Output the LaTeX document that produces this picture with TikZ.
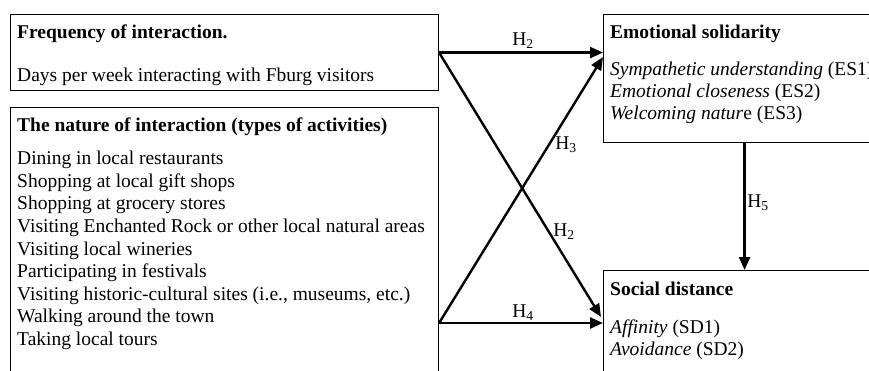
\documentclass[tikz,border=0pt]{standalone}
\usepackage{fontspec}
\setmainfont{Liberation Serif}
\usetikzlibrary{arrows.meta,calc}
\begin{document}
\begin{tikzpicture}[x=1pt,y=-1pt,
  box/.style={draw,line width=1.1pt,inner sep=0,anchor=north west},
  txt/.style={anchor=base west,inner sep=0,font=\fontsize{19.5}{22.5}\selectfont},
  conn/.style={line width=2.4pt,-{Triangle[length=13pt,width=11pt]}},
  hlab/.style={inner sep=0,font=\fontsize{19.5}{22}\selectfont}]
\clip (0,0) rectangle (869,371);
\fill[white] (0,0) rectangle (869,371);
% boxes
\node[box,minimum width=428pt,minimum height=76pt] (freq) at (10,14) {};
\node[box,minimum width=428pt,minimum height=300pt] (nat) at (10,107) {};
\node[box,minimum width=282pt,minimum height=128pt] (es) at (603,14) {};
\node[box,minimum width=282pt,minimum height=130pt] (sd) at (603,270) {};
% texts
\node[txt,font=\fontsize{19.5}{22.5}\selectfont\bfseries] (t1) at (17,39) {Frequency of interaction.};
\node[txt] (t2) at (17,82) {Days per week interacting with Fburg visitors};
\node[txt,font=\fontsize{19.5}{22.5}\selectfont\bfseries] (t3) at (17,131.5) {The nature of interaction (types of activities)};
\foreach \s [count=\i from 0] in {Dining in local restaurants,Shopping at local gift shops,Shopping at grocery stores,Visiting Enchanted Rock or other local natural areas,Visiting local wineries,Participating in festivals,Visiting historic-cultural sites (i.e.{,} museums{,} etc.),Walking around the town,Taking local tours}
  \node[txt] (a\i) at (17,165+22.5*\i) {\s};
\node[txt,font=\fontsize{19.5}{22.5}\selectfont\bfseries] (e0) at (610,39) {Emotional solidarity};
\node[txt] (e1) at (610,76) {\textit{Sympathetic understanding} (ES1)};
\node[txt] (e2) at (610,98) {\textit{Emotional closeness} (ES2)};
\node[txt] (e3) at (610,120) {\textit{Welcoming natur}e (ES3)};
\node[txt,font=\fontsize{19.5}{22.5}\selectfont\bfseries] (s0) at (610,295) {Social distance};
\node[txt] (s1) at (610,333) {\textit{Affinity} (SD1)};
\node[txt] (s2) at (610,355) {\textit{Avoidance} (SD2)};
% connectors
\coordinate (fA) at (freq.east);
\coordinate (nB) at ($(nat.north east)+(0,216)$);
\coordinate (esT) at ($(es.north west)+(0,43)$);
\coordinate (sdT) at ($(sd.north west)+(-2,47)$);
\draw[conn] (fA) -- (fA -| es.west);
\draw[conn] (fA) -- (sdT);
\draw[conn] (nB) -- (esT);
\draw[conn] (nB) -- (nB -| sd.west);
\draw[conn] (es.south) -- (sd.north);
% labels
\node[hlab] (h2a) at (523,41) {H\textsubscript{2}};
\node[hlab] (h3) at (566,145) {H\textsubscript{3}};
\node[hlab] (h2b) at (564,232) {H\textsubscript{2}};
\node[hlab] (h4) at (523,313) {H\textsubscript{4}};
\node[hlab] (h5) at (758,203) {H\textsubscript{5}};
\end{tikzpicture}
\end{document}
